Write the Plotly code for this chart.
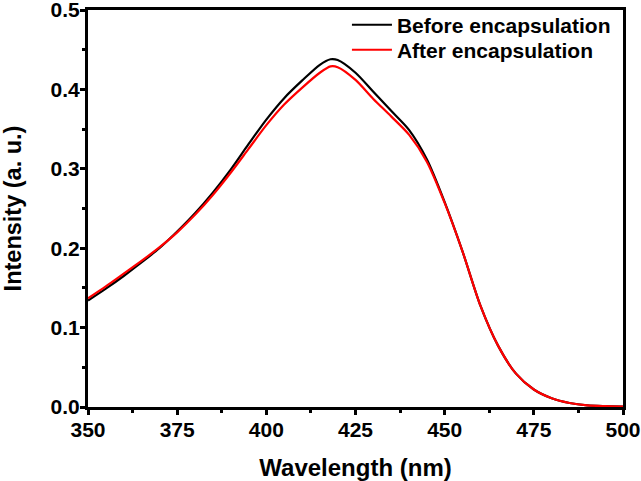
import plotly.graph_objects as go

wavelength = [350, 355, 360, 365, 370, 375, 380, 385, 390, 395, 400, 405, 410, 415, 418,
              420, 425, 430, 435, 440, 445, 450, 455, 460, 465, 470, 475, 480, 485, 490, 495, 500]
before = [0.134, 0.149, 0.165, 0.182, 0.200, 0.221, 0.244, 0.270, 0.299, 0.331, 0.362, 0.389,
          0.411, 0.431, 0.438, 0.437, 0.421, 0.397, 0.373, 0.349, 0.312, 0.258, 0.196, 0.128,
          0.077, 0.042, 0.022, 0.011, 0.005, 0.002, 0.001, 0.0005]
after = [0.137, 0.152, 0.168, 0.184, 0.201, 0.220, 0.242, 0.267, 0.295, 0.325, 0.355, 0.381,
         0.402, 0.421, 0.429, 0.428, 0.412, 0.388, 0.366, 0.343, 0.309, 0.257, 0.196, 0.128,
         0.077, 0.042, 0.022, 0.011, 0.005, 0.002, 0.001, 0.0005]

font_family = "Liberation Sans, Arial, sans-serif"
legend_font = dict(family=font_family, size=21, color="black")

fig = go.Figure()
fig.add_trace(go.Scatter(x=wavelength, y=before, mode="lines", name="<b>Before encapsulation</b>",
                         legend="legend",
                         line=dict(color="black", width=2.2, shape="spline", smoothing=0.8)))
fig.add_trace(go.Scatter(x=wavelength, y=after, mode="lines", name="<b>After encapsulation</b>",
                         legend="legend2",
                         line=dict(color="#ff0000", width=2.2, shape="spline", smoothing=0.8)))

axis_common = dict(showline=True, linecolor="black", linewidth=3, mirror=True,
                   ticks="outside", ticklen=5, tickwidth=3, tickcolor="black",
                   showgrid=False, zeroline=False, automargin=False,
                   ticklabeloverflow="allow",
                   tickfont=dict(family=font_family, size=21, color="black", weight="bold"))

fig.update_xaxes(range=[350, 500], tick0=350, dtick=25, ticklabelstandoff=-3,
                 minor=dict(ticks="outside", ticklen=3, tickwidth=3, tickcolor="black", dtick=12.5),
                 title=dict(text="<b>Wavelength (nm)</b>", font=dict(family=font_family, size=24, color="black"),
                            standoff=23),
                 **axis_common)
fig.update_yaxes(range=[0, 0.5], tick0=0, dtick=0.1, tickformat=".1f", ticklabelstandoff=-4,
                 minor=dict(ticks="outside", ticklen=3, tickwidth=3, tickcolor="black", dtick=0.05),
                 title=dict(text="<b>Intensity (a. u.)</b>", font=dict(family=font_family, size=23.5, color="black"),
                            standoff=30),
                 **axis_common)

fig.update_layout(width=641, height=481, margin=dict(l=88, r=18, t=10, b=74, autoexpand=False),
                  plot_bgcolor="white", paper_bgcolor="white",
                  legend=dict(x=0.484, y=0.962, xanchor="left", yanchor="middle",
                              bgcolor="rgba(0,0,0,0)", itemwidth=40, font=legend_font),
                  legend2=dict(x=0.484, y=0.899, xanchor="left", yanchor="middle",
                               bgcolor="rgba(0,0,0,0)", itemwidth=40, font=legend_font),
                  showlegend=True)

fig.write_html("out.html", config={"displayModeBar": False},
               post_script="document.body.style.margin='0';")
